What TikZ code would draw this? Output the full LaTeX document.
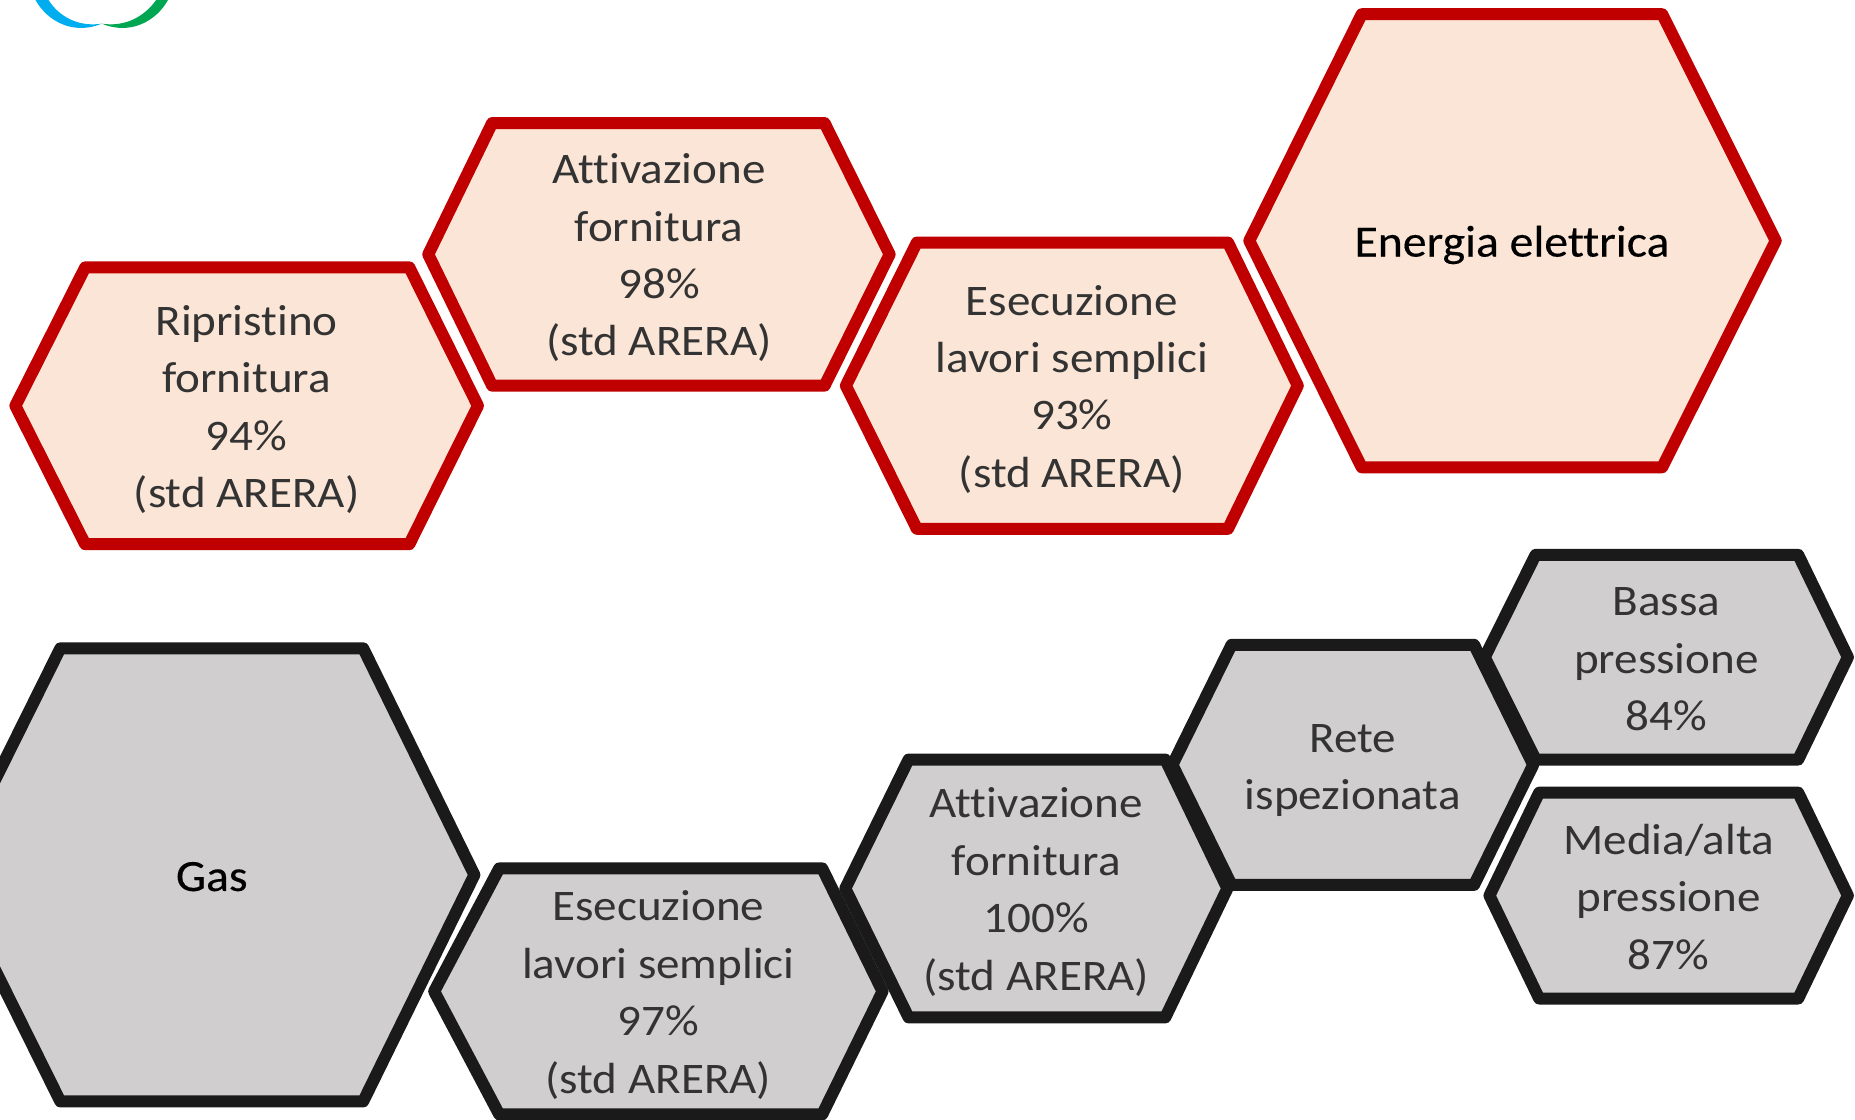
\documentclass[tikz,border=0pt]{standalone}
\usepackage{fontspec}
\setmainfont[Ligatures=NoCommon,FakeStretch=1.08]{Carlito}
\newfontfamily\headfont[Ligatures=NoCommon,FakeStretch=1.07,FakeBold=0.3]{Carlito}
\definecolor{hexred}{HTML}{C00000}
\definecolor{hexpeach}{HTML}{FBE5D6}
\definecolor{hexdark}{HTML}{1A1A1A}
\definecolor{hexgrey}{HTML}{D0CECE}
\definecolor{logoblue}{HTML}{00AEEF}
\definecolor{logogreen}{HTML}{00A651}
\tikzset{
    hexred/.style={draw=hexred,fill=hexpeach,line width=6pt,line join=round},
    hexdark/.style={draw=hexdark,fill=hexgrey,line width=6pt,line join=round},
    hexlabel/.style={align=center,font=\fontsize{21.8}{28.7}\selectfont,text=black!80},
    hexhead/.style={align=center,font=\headfont\fontsize{22.3}{28.7}\selectfont,text=black},
}

\begin{document}
\begin{tikzpicture}[x={(0.5915pt,0pt)},y={(0pt,-0.5915pt)}]
    \clip (0,0) rectangle (1568,946);
    \fill[logoblue] (30,0) .. controls (40,18) and (62,30) .. (86,20) .. controls (66,23) and (50,14) .. (41,0)--cycle;
    \fill[logogreen] (142,0) .. controls (132,18) and (110,30) .. (86,20) .. controls (106,23) and (122,14) .. (132,0)--cycle;
    % top row
    \foreach \name/\l/\tl/\tr/\r/\t/\b/\dy/\txt in {
        ripristino/13/72/346/404/226/460/3/{Ripristino\\fornitura\\94\%\\(std ARERA)},
        attivazione/362/416/697/752/104/326/3/{Attivazione\\fornitura\\98\%\\(std ARERA)},
        esecuzione/715/775/1038/1097/205/447/3/{Esecuzione\\lavori semplici\\93\%\\(std ARERA)}}{
        \draw[hexred] (\l,{(\t+\b)/2})--(\tl,\t)--(\tr,\t)--(\r,{(\t+\b)/2})--(\tr,\b)--(\tl,\b)--cycle;
        \node[hexlabel] (\name) at ({(\l+\r)/2},{(\t+\b)/2+\dy}) {\txt};
    }
    \draw[hexred] (1056,203.5)--(1151,12)--(1405,12)--(1501,203.5)--(1405,395)--(1151,395)--cycle;
    \node[hexhead] (energia) at (1278,207) {Energia elettrica};
    % bottom row
    \foreach \name/\l/\tl/\tr/\r/\t/\b/\dy/\txt in {
        bassa/1255/1298/1520/1562/469/642/2/{Bassa\\pressione\\84\%},
        media/1259/1301/1520/1562/670/844/1/{Media/alta\\pressione\\87\%},
        rete/991/1041/1246/1296/545/748/5/{Rete\\ispezionata},
        attivazionegas/714.5/768/985/1037.5/642/860/3/{Attivazione\\fornitura\\100\%\\(std ARERA)},
        esecuzionegas/367/422/695/746/734/942/3/{Esecuzione\\lavori semplici\\97\%\\(std ARERA)}}{
        \draw[hexdark] (\l,{(\t+\b)/2})--(\tl,\t)--(\tr,\t)--(\r,{(\t+\b)/2})--(\tr,\b)--(\tl,\b)--cycle;
        \node[hexlabel] (\name) at ({(\l+\r)/2},{(\t+\b)/2+\dy}) {\txt};
    }
    \draw[hexdark] (-44,739.5)--(51,548)--(307,548)--(401,739.5)--(307,931)--(51,931)--cycle;
    \node[hexhead] (gas) at (179,741) {Gas};
\end{tikzpicture}
\end{document}
